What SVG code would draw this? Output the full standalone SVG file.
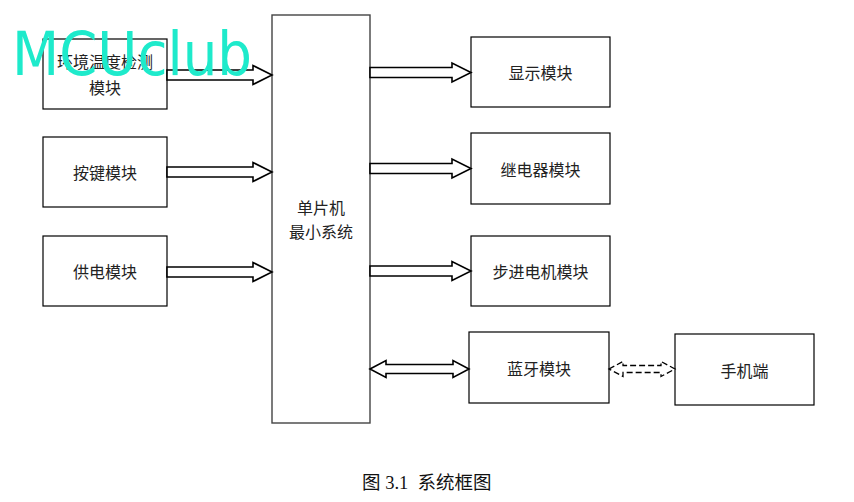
<svg xmlns="http://www.w3.org/2000/svg" width="854" height="502" viewBox="0 0 854 502">
<style>
.box{fill:#fff;stroke:#000;stroke-width:1.2}
.main{fill:#fff;stroke:#444;stroke-width:1.4}
.t{font-family:"Noto Sans CJK SC","Liberation Serif",sans-serif;font-size:16px;fill:#222;text-anchor:middle;dominant-baseline:central}
.arr{fill:#fff;stroke:#000;stroke-width:1.6;stroke-linejoin:miter}
.dash{fill:#fff;stroke:#000;stroke-width:1.3;stroke-dasharray:6 3}
.cap{font-family:"Liberation Serif","Noto Sans CJK SC",serif;font-size:18.5px;fill:#111;white-space:pre}
.wm{font-family:"DejaVu Sans",sans-serif;font-size:60px;fill:#1EEACB}
</style>
<rect width="854" height="502" fill="#fff"/>
<g id="main">
<rect class="main" x="272" y="15" width="98" height="408"/>
<text class="t" x="321" y="206.5">单片机</text>
<text class="t" x="321" y="231">最小系统</text>
</g>
<g id="env">
<rect class="box" x="43" y="39" width="124" height="70"/>
<text class="t" x="105" y="61">环境温度检测</text>
<text class="t" x="105" y="87">模块</text>
</g>
<g id="key">
<rect class="box" x="43" y="137" width="124" height="70"/>
<text class="t" x="105" y="172">按键模块</text>
</g>
<g id="power">
<rect class="box" x="43" y="236" width="124" height="70"/>
<text class="t" x="105" y="271">供电模块</text>
</g>
<g id="display">
<rect class="box" x="471" y="37" width="139" height="70"/>
<text class="t" x="540.5" y="72">显示模块</text>
</g>
<g id="relay">
<rect class="box" x="471" y="133" width="139" height="71"/>
<text class="t" x="540.5" y="168.5">继电器模块</text>
</g>
<g id="motor">
<rect class="box" x="471" y="236" width="139" height="70"/>
<text class="t" x="540.5" y="271">步进电机模块</text>
</g>
<g id="bt">
<rect class="box" x="469" y="332" width="140" height="71"/>
<text class="t" x="539" y="367.5">蓝牙模块</text>
</g>
<g id="phone">
<rect class="box" x="675" y="334" width="139" height="71"/>
<text class="t" x="744.5" y="369.5">手机端</text>
</g>
<g id="connectors">
<polygon class="arr" points="167,70 253,70 253,65.5 272,75 253,84.5 253,80 167,80"/>
<polygon class="arr" points="167,167 253,167 253,162.5 272,172 253,181.5 253,177 167,177"/>
<polygon class="arr" points="167,267 253,267 253,262.5 272,272 253,281.5 253,277 167,277"/>
<polygon class="arr" points="370,67.5 452,67.5 452,63 471,72.5 452,82 452,77.5 370,77.5"/>
<polygon class="arr" points="370,163.5 452,163.5 452,159 471,168.5 452,178 452,173.5 370,173.5"/>
<polygon class="arr" points="370,266 452,266 452,261.5 471,271 452,280.5 452,276 370,276"/>
<polygon class="arr" points="370,369 386,360.5 386,364.5 453,364.5 453,360.5 469,369 453,377.5 453,373.5 386,373.5 386,377.5"/>
<polygon class="dash" points="609,369 623,361.5 623,365.5 661,365.5 661,361.5 675,369 661,376.5 661,372.5 623,372.5 623,376.5"/>
</g>
<text class="cap" x="362" y="489" xml:space="preserve">图 3.1  系统框图</text>
<text class="wm" x="12" y="75" textLength="240" lengthAdjust="spacingAndGlyphs">MCUclub</text>
</svg>
